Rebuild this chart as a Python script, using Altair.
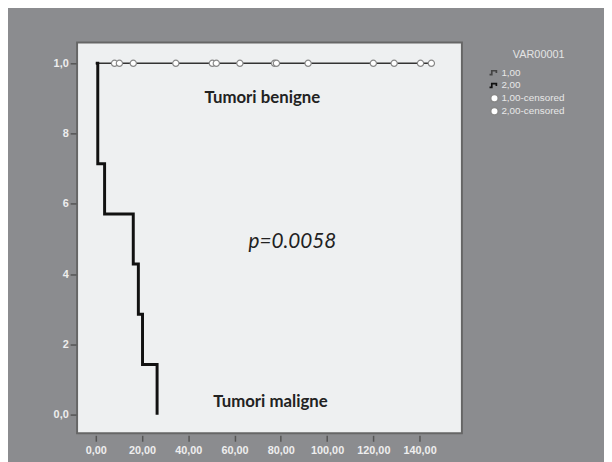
import altair as alt
import pandas as pd

# Kaplan-Meier data
mal_time = [0, 0.85, 3.8, 16.2, 18.4, 20.2, 26.5]
mal_surv = [1.0, 0.714, 0.571, 0.429, 0.286, 0.143, 0.0]
ben_time = [0, 145.1]
ben_surv = [1.0, 1.0]
cens_time = [8.1, 10.2, 16.2, 34.6, 50.4, 52.1, 62.3, 77.3, 78.1, 91.8, 120.0, 129.0, 140.4, 145.1]
cens_surv = [1.0] * len(cens_time)

groups = ["1,00", "2,00", "1,00-censored", "2,00-censored"]

ann_text = ["Tumori benigne", "Tumori maligne", "p=0.0058"]
ann_x = [72, 75.5, 85]
ann_y = [0.90, 0.037, 0.49]

x_ticks = [0, 20, 40, 60, 80, 100, 120, 140]
y_ticks = [0, 0.2, 0.4, 0.6, 0.8, 1.0]

mal_df = pd.DataFrame({"t": mal_time, "s": mal_surv})
ben_df = pd.DataFrame({"t": ben_time, "s": ben_surv})
cens_df = pd.DataFrame({"t": cens_time, "s": cens_surv, "grp": ["1,00-censored"] * len(cens_time)})
ann_df = pd.DataFrame({"txt": ann_text, "t": ann_x, "s": ann_y,
                       "style": ["b", "b", "i"]})

xs = alt.Scale(domain=[-8.1, 158.3], nice=False, zero=False)
ys = alt.Scale(domain=[-0.053, 1.059], nice=False, zero=False)

xaxis = alt.Axis(values=x_ticks, title=None, grid=False, domain=False,
                 labelExpr="replace(format(datum.value, '.2f'), '.', ',')",
                 tickSize=6, tickColor="#555555", tickWidth=1.5, offset=2, labelPadding=3,
                 labelFont="Liberation Sans", labelFontSize=11, labelFontWeight="bold",
                 labelColor="#eeeeee")
yaxis = alt.Axis(values=y_ticks, title=None, grid=False, domain=False,
                 labelExpr="datum.value == 1 ? '1,0' : (datum.value == 0 ? '0,0' : format(datum.value * 10, 'd'))",
                 tickSize=6, tickColor="#555555", tickWidth=1.5, offset=1, labelPadding=2,
                 labelFont="Liberation Sans", labelFontSize=11, labelFontWeight="bold",
                 labelColor="#eeeeee")

step_path = "M-1.7,0.5 L-0.7,0.5 L-0.7,-0.5 L0.5,-0.5 L0.5,0.1"

mal = alt.Chart(mal_df).mark_line(interpolate="step-after", color="#111111", strokeWidth=3).encode(
    x=alt.X("t:Q", scale=xs, axis=xaxis),
    y=alt.Y("s:Q", scale=ys, axis=yaxis),
)
ben = alt.Chart(ben_df).mark_line(interpolate="step-after", color="#333333", strokeWidth=1.6).encode(
    x=alt.X("t:Q", scale=xs),
    y=alt.Y("s:Q", scale=ys),
)

leg = alt.Legend(title="VAR00001", orient="none", legendX=418, legendY=7,
                 titleFont="Liberation Sans", titleFontSize=11, titleFontWeight="normal",
                 titleColor="#e4e4e4", titleAnchor="end", titlePadding=7,
                 labelFont="Liberation Sans", labelFontSize=10, labelColor="#e8e8e8",
                 symbolSize=60, symbolStrokeWidth=1.7, rowPadding=2, labelOffset=2,
                 clipHeight=11, gridAlign="all")

cens = alt.Chart(cens_df).mark_point(opacity=1, size=40, strokeWidth=1.2).encode(
    x=alt.X("t:Q", scale=xs),
    y=alt.Y("s:Q", scale=ys),
    shape=alt.Shape("grp:N", scale=alt.Scale(domain=groups, range=[step_path, step_path, "circle", "circle"]), legend=leg),
    fill=alt.Fill("grp:N", scale=alt.Scale(domain=groups, range=["transparent", "transparent", "#ffffff", "#ffffff"]), legend=leg),
    stroke=alt.Stroke("grp:N", scale=alt.Scale(domain=groups, range=["#444444", "#111111", "#888888", "#888888"]), legend=leg),
)

ann_b = alt.Chart(ann_df).transform_filter(alt.datum.style == "b").mark_text(
    font="Lato", fontSize=17, fontWeight="bold", color="#222222"
).encode(x=alt.X("t:Q", scale=xs), y=alt.Y("s:Q", scale=ys), text="txt:N")
ann_i = alt.Chart(ann_df).transform_filter(alt.datum.style == "i").mark_text(
    font="Lato", fontSize=21, fontStyle="italic", color="#222222"
).encode(x=alt.X("t:Q", scale=xs), y=alt.Y("s:Q", scale=ys), text="txt:N")

chart = alt.layer(ben, mal, cens, ann_b, ann_i).properties(
    width=390, height=396,
    autosize=alt.AutoSizeParams(type="none"),
    padding={"left": 70, "top": 32, "right": 144, "bottom": 26},
    background="#8b8c8f",
).configure_view(fill="#eef0f1", stroke="#666666", strokeWidth=2)

chart.save("out.html", embed_options={"renderer": "svg", "actions": False})
